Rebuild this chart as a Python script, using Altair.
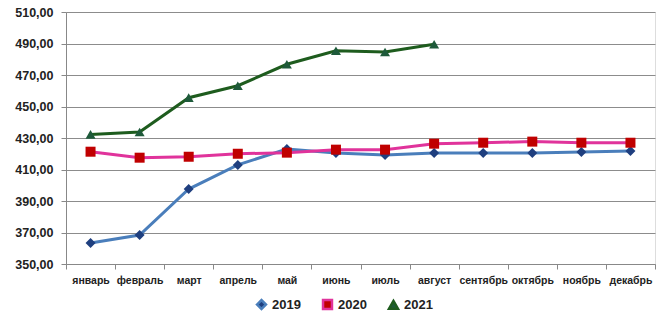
import altair as alt
import pandas as pd

months = ["январь", "февраль", "март", "апрель", "май", "июнь", "июль",
          "август", "сентябрь", "октябрь", "ноябрь", "декабрь"]
v2019 = [363.3, 368.4, 397.6, 412.9, 423.0, 420.5, 419.2, 420.5, 420.5, 420.5, 421.1, 421.7]
v2020 = [421.3, 417.5, 418.1, 420.0, 420.7, 422.6, 422.6, 426.4, 427.0, 427.7, 427.0, 427.0]
v2021 = [432.3, 433.8, 455.6, 463.2, 476.8, 485.4, 484.6, 489.5]
years = ["2019", "2020", "2021"]
line_colors = ["#4A7EBB", "#E0339B", "#1E5C1E"]
marker_colors = ["#1F3F7F", "#C00000", "#1E5A3A"]
shapes = ["diamond", "square", "triangle-up"]

rows = []
for yr, vals in zip(years, [v2019, v2020, v2021]):
    for m, v in zip(months, vals):
        rows.append({"month": m, "value": v, "year": yr})
df = pd.DataFrame(rows)

x = alt.X("month:N", sort=months, title=None,
          axis=alt.Axis(tickBand="extent", labelAngle=0, labelFontSize=10.5,
                        labelFontWeight="bold", labelColor="#222", labelPadding=6,
                        tickColor="#888", domainColor="#888", tickSize=5, grid=False))
y = alt.Y("value:Q", title=None,
          scale=alt.Scale(domain=[350, 510], nice=False, zero=False),
          axis=alt.Axis(values=list(range(350, 511, 20)),
                        labelExpr="replace(format(datum.value, '.2f'), '.', ',')",
                        labelFontSize=12.5, labelFontWeight="bold", labelColor="#222",
                        labelPadding=8, tickColor="#888", tickSize=5, domainColor="#888",
                        gridColor="#8C8C8C", gridWidth=1))

legend = alt.Legend(orient="none", legendX=189, legendY=286, direction="horizontal",
                    title=None, labelFontSize=13, labelFontWeight="bold", labelColor="#222",
                    symbolSize=80, columnPadding=17, symbolStrokeWidth=2.5)

lines = alt.Chart(df).mark_line(strokeWidth=3).encode(
    x=x, y=y,
    color=alt.Color("year:N", scale=alt.Scale(domain=years, range=line_colors), legend=legend),
)
points = alt.Chart(df).mark_point(filled=True, size=100, opacity=1).encode(
    x=x, y=y,
    fill=alt.Fill("year:N", scale=alt.Scale(domain=years, range=marker_colors), legend=legend),
    shape=alt.Shape("year:N", scale=alt.Scale(domain=years, range=shapes), legend=legend),
)

chart = alt.layer(lines, points).properties(
    width=589, height=252,
    padding={"left": 66, "top": 12, "right": 10, "bottom": 58},
    autosize=alt.AutoSizeParams(type="none"),
).configure_view(stroke=None).configure(font="Liberation Sans", background="white")

chart.save("out.html", embed_options={"renderer": "svg", "actions": False})
